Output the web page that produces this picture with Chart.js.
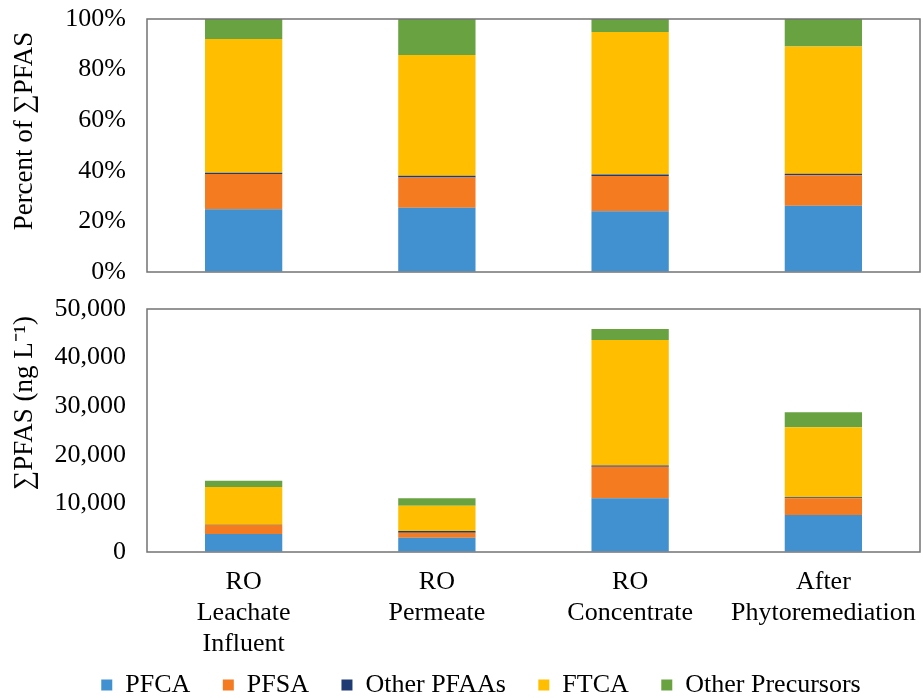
<!DOCTYPE html>
<html><head><meta charset="utf-8">
<script src="https://cdn.jsdelivr.net/npm/chart.js@4.4.0/dist/chart.umd.min.js"></script>
<style>
html,body{margin:0;padding:0;background:#fff;overflow:hidden;width:923px;height:698px;}
canvas{position:absolute;left:0;}
#topChart{top:0;}
#botChart{top:290px;}
</style></head><body>
<canvas id="topChart" width="923" height="290"></canvas>
<canvas id="botChart" width="923" height="422"></canvas>
<script>
// ---- data ----
const categories = [["RO","Leachate","Influent"],["RO","Permeate"],["RO","Concentrate"],["After","Phytoremediation"]];
const seriesNames = ["PFCA","PFSA","Other PFAAs","FTCA","Other Precursors"];
const seriesColors = ["#4190CF","#F47B20","#1F3B73","#FFBF00","#69A241"];

// percent of total PFAS (top panel)
const pfcaPct      = [24.8, 25.4, 24.0, 26.2];
const pfsaPct      = [13.9, 12.0, 13.9, 12.0];
const otherPfaaPct = [0.5, 0.6, 0.6, 0.6];
const ftcaPct      = [52.9, 47.8, 56.4, 50.3];
const otherPrecPct = [7.9, 14.2, 5.1, 10.9];

// total PFAS concentration, ng/L (bottom panel)
const pfcaConc      = [3700, 2940, 11050, 7600];
const pfsaConc      = [1850, 1030, 6500, 3450];
const otherPfaaConc = [80, 350, 270, 200];
const ftcaConc      = [7750, 5200, 25800, 14400];
const otherPrecConc = [1300, 1530, 2280, 3100];

const pctTitle = "Percent of \u2211PFAS";
const concTitle = "\u2211PFAS (ng L\u207B\u00B9)";

// ---- styling ----
const FONT = "'Liberation Serif', 'Times New Roman', serif";
const FS = 26;
Chart.defaults.font.family = FONT;
Chart.defaults.color = "#000";

const framePlugin = {
  id: 'frame',
  afterDatasetsDraw(chart) {
    const {ctx, chartArea: a} = chart;
    ctx.save();
    ctx.strokeStyle = '#737373';
    ctx.lineWidth = 1.5;
    ctx.strokeRect(a.left, a.top, a.right - a.left, a.bottom - a.top);
    ctx.restore();
  }
};
const yTitlePlugin = {
  id: 'yTitle',
  afterDraw(chart, args, opts) {
    const ctx = chart.ctx;
    ctx.save();
    ctx.translate(opts.x, opts.y);
    ctx.rotate(-Math.PI / 2);
    ctx.font = '27px ' + FONT;
    ctx.fillStyle = '#000';
    ctx.textAlign = 'center';
    ctx.textBaseline = 'alphabetic';
    ctx.fillText(opts.text, 0, 0);
    ctx.restore();
  }
};

function makeDatasets(arrs) {
  return arrs.map((d, i) => ({
    label: seriesNames[i],
    data: d,
    backgroundColor: seriesColors[i],
    borderWidth: 0,
    barPercentage: 0.4,
    categoryPercentage: 1.0
  }));
}

const hiddenTickGrid = len => ({
  display: true, drawOnChartArea: false, drawTicks: true,
  tickLength: len, tickColor: 'rgba(0,0,0,0)'
});

// ---- top chart ----
new Chart(document.getElementById('topChart'), {
  type: 'bar',
  data: {
    labels: categories,
    datasets: makeDatasets([pfcaPct, pfsaPct, otherPfaaPct, ftcaPct, otherPrecPct])
  },
  plugins: [framePlugin, yTitlePlugin],
  options: {
    responsive: false,
    animation: false,
    layout: {padding: {left: 0, right: 3, top: 19, bottom: 18}},
    plugins: {
      legend: {display: false},
      tooltip: {enabled: false},
      yTitle: {text: pctTitle, x: 32, y: 131}
    },
    scales: {
      x: {
        stacked: true,
        grid: {display: false},
        border: {display: false},
        ticks: {display: false},
        afterFit: s => { s.height = 0; }
      },
      y: {
        stacked: true,
        min: 0, max: 100,
        grid: hiddenTickGrid(21),
        border: {display: false},
        ticks: {stepSize: 20, padding: 0, font: {size: FS}, color: '#000',
                callback: v => v + '%'},
        afterFit: s => { s.width = 147; }
      }
    }
  }
});

// ---- bottom chart ----
new Chart(document.getElementById('botChart'), {
  type: 'bar',
  data: {
    labels: categories,
    datasets: makeDatasets([pfcaConc, pfsaConc, otherPfaaConc, ftcaConc, otherPrecConc])
  },
  plugins: [framePlugin, yTitlePlugin],
  options: {
    responsive: false,
    animation: false,
    layout: {padding: {left: 42, right: 3, top: 19, bottom: 4}},
    plugins: {
      legend: {
        display: true,
        position: 'bottom',
        labels: {
          boxWidth: 11, boxHeight: 11, padding: 13, font: {size: FS}, color: '#000',
          generateLabels: chart => {
            const items = Chart.defaults.plugins.legend.labels.generateLabels(chart);
            items.forEach((it, i) => { if (i < items.length - 1) it.text = it.text + '   '; });
            return items;
          }
        }
      },
      tooltip: {enabled: false},
      yTitle: {text: concTitle, x: 32, y: 113}
    },
    scales: {
      x: {
        stacked: true,
        grid: hiddenTickGrid(15),
        border: {display: false},
        ticks: {padding: 0, font: {size: FS, lineHeight: 1.18}, color: '#000', maxRotation: 0, autoSkip: false},
        afterFit: s => { s.height = 107; }
      },
      y: {
        stacked: true,
        min: 0, max: 50000,
        grid: hiddenTickGrid(21),
        border: {display: false},
        ticks: {stepSize: 10000, padding: 0, font: {size: FS}, color: '#000',
                callback: v => v.toLocaleString('en-US')},
        afterFit: s => { s.width = 105; }
      }
    }
  }
});
</script>
</body></html>
